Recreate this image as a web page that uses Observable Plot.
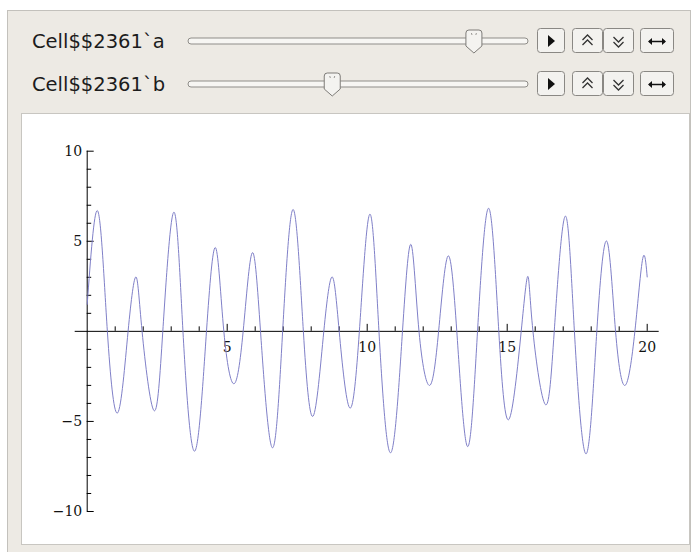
<!DOCTYPE html>
<html><head><meta charset="utf-8">
<script src="https://cdn.jsdelivr.net/npm/d3@7"></script>
<script src="https://cdn.jsdelivr.net/npm/@observablehq/plot@0.6"></script>
<style>
body{margin:0;background:#fff;width:693px;height:552px;overflow:hidden;position:relative;}
#panel{position:absolute;left:7px;top:10px;width:684px;height:560px;background:#edeae4;border:1px solid #c3c1bc;box-sizing:border-box}
#ctrl{position:absolute;left:0;top:0}
#plotbox{position:absolute;left:21px;top:113px;width:667px;height:430px;border:1px solid #c8c6c1;background:#fff}
#plotbox svg{display:block}
</style></head><body>
<div id="panel"></div>
<svg id="ctrl" width="693" height="110"></svg>
<div id="plotbox"></div>
<script>
// ---- data: extrema and axis crossings of the curve ----
const xs = [0, 0.38, 0.72, 1.09, 1.46, 1.74, 1.96, 2.38, 2.70, 3.09, 3.42, 3.84, 4.26, 4.59, 4.88, 5.24, 5.57, 5.89, 6.19, 6.61, 6.98, 7.36, 7.72, 8.07, 8.45, 8.75, 9.00, 9.37, 9.72, 10.09, 10.42, 10.84, 11.26, 11.57, 11.85, 12.23, 12.55, 12.88, 13.20, 13.58, 13.94, 14.34, 14.70, 15.06, 15.50, 15.74, 15.92, 16.36, 16.68, 17.07, 17.40, 17.82, 18.20, 18.56, 18.87, 19.21, 19.56, 19.84, 20.0];
const ys = [1.5, 6.67, 0, -4.52, 0, 3.02, 0, -4.39, 0, 6.61, 0, -6.65, 0, 4.63, 0, -2.91, 0, 4.35, 0, -6.46, 0, 6.76, 0, -4.70, 0, 3.02, 0, -4.24, 0, 6.50, 0, -6.74, 0, 4.81, 0, -3.00, 0, 4.17, 0, -6.39, 0, 6.83, 0, -4.89, 0, 3.05, 0, -4.06, 0, 6.39, 0, -6.80, 0, 5.00, 0, -3.00, 0, 4.04, 3.02];
const xMajor = [5, 10, 15, 20];
const xMinor = [1,2,3,4,6,7,8,9,11,12,13,14,16,17,18,19];
const yMajor = [-10, -5, 5, 10];
const yMinor = [-9,-8,-7,-6,-4,-3,-2,-1,1,2,3,4,6,7,8,9];
const xDomain = [0, 20];
const yDomain = [-10, 10];
const controlLabels = ["Cell$$2361`a", "Cell$$2361`b"];
const controlValues = [0.86, 0.42]; // slider thumb positions (fraction of track)

// ---- controls (HTML/SVG UI) ----
const ns = "http://www.w3.org/2000/svg";
const ctrl = d3.select("#ctrl");
const rowsY = [41, 84];
const trackX0 = 188, trackX1 = 528;
rowsY.forEach((cy, i) => {
  const g = ctrl.append("g");
  g.append("text").attr("x", 32).attr("y", cy + 7).attr("font-family", "DejaVu Sans")
    .attr("font-size", 19.5).attr("fill", "#1c1c1c").text(controlLabels[i]);
  g.append("rect").attr("x", trackX0).attr("y", cy - 3).attr("width", trackX1 - trackX0).attr("height", 6)
    .attr("rx", 3).attr("fill", "#f7f6f3").attr("stroke", "#8f8d89");
  const tx = trackX0 + 9 + controlValues[i] * (trackX1 - trackX0 - 18);
  const top = cy - 11;
  g.append("path").attr("d", `M${tx-8},${top+3} Q${tx-8},${top} ${tx-5},${top} L${tx+5},${top} Q${tx+8},${top} ${tx+8},${top+3} L${tx+8},${cy+5} L${tx},${cy+12} L${tx-8},${cy+5} Z`)
    .attr("fill", "#f4f3f0").attr("stroke", "#7e7c78");
  g.append("path").attr("d", `M${tx-2.5},${top+3} l0.6,2 M${tx+2.5},${top+3} l-0.6,2`).attr("stroke", "#9a9894").attr("stroke-width", 1);
  const btns = [[537, 27], [572, 30], [603, 30], [640, 33]];
  btns.forEach(([bx, bw]) => {
    g.append("rect").attr("x", bx + 0.5).attr("y", cy - 12.5).attr("width", bw).attr("height", 24)
      .attr("rx", 3).attr("fill", "#f3f2ef").attr("stroke", "#8a8884");
  });
  // play
  g.append("path").attr("d", `M${537+11},${cy-6} L${537+18},${cy} L${537+11},${cy+6} Z`).attr("fill", "#111");
  // double up
  const ux = 572 + 15.5;
  g.append("path").attr("d", `M${ux-5},${cy-1} L${ux},${cy-6} L${ux+5},${cy-1} M${ux-5},${cy+4} L${ux},${cy-1} L${ux+5},${cy+4}`)
    .attr("fill", "none").attr("stroke", "#333").attr("stroke-width", 1.3);
  const dx = 603 + 15.5;
  g.append("path").attr("d", `M${dx-5},${cy-4} L${dx},${cy+1} L${dx+5},${cy-4} M${dx-5},${cy+1} L${dx},${cy+6} L${dx+5},${cy+1}`)
    .attr("fill", "none").attr("stroke", "#333").attr("stroke-width", 1.3);
  const ax = 640 + 17;
  g.append("path").attr("d", `M${ax-8},${cy+0.5} L${ax+8},${cy+0.5}`).attr("stroke", "#111").attr("stroke-width", 1.5);
  g.append("path").attr("d", `M${ax-9},${cy+0.5} l4,-3.5 l0,7 Z M${ax+9},${cy+0.5} l-4,-3.5 l0,7 Z`).attr("fill", "#111");
});

// ---- plot ----
const W = 667, H = 430, mL = 64.7, mR = 42.3, mT = 36.7, mB = 33;
const kX = (W - mL - mR) / (xDomain[1] - xDomain[0]);
const kY = (H - mT - mB) / (yDomain[1] - yDomain[0]);
const majorLen = 7, minorLen = 4.5, axisExt = 12;
const data = xs.map((x, i) => ({x, y: ys[i]}));
const fmt = d => d < 0 ? "\u2212" + Math.abs(d) : String(d);

const chart = Plot.plot({
  width: W, height: H,
  marginLeft: mL, marginRight: mR, marginTop: mT, marginBottom: mB,
  x: {domain: xDomain, axis: null},
  y: {domain: yDomain, axis: null},
  style: {background: "white", fontFamily: "DejaVu Serif", fontSize: "14px", color: "#000"},
  marks: [
    Plot.ruleY([0], {x1: xDomain[0] - axisExt / kX, x2: xDomain[1] + axisExt / kX, stroke: "#000"}),
    Plot.ruleX([0], {y1: yDomain[0], y2: yDomain[1], stroke: "#000"}),
    Plot.ruleX(xMinor, {x: d => d, y1: 0, y2: minorLen / kY, stroke: "#000"}),
    Plot.ruleX(xMajor, {x: d => d, y1: 0, y2: majorLen / kY, stroke: "#000"}),
    Plot.ruleY(yMinor, {y: d => d, x1: 0, x2: minorLen / kX, stroke: "#000"}),
    Plot.ruleY(yMajor, {y: d => d, x1: 0, x2: majorLen / kX, stroke: "#000"}),
    Plot.text(xMajor, {x: d => d, y: 0, dy: 16, text: fmt, fill: "#111"}),
    Plot.text(yMajor, {x: 0, y: d => d, dx: -5, textAnchor: "end", text: fmt, fill: "#111"}),
    Plot.line(data, {x: "x", y: "y", curve: "natural", stroke: "#8080c8", strokeWidth: 1})
  ]
});
document.getElementById("plotbox").appendChild(chart);
</script>
</body></html>
